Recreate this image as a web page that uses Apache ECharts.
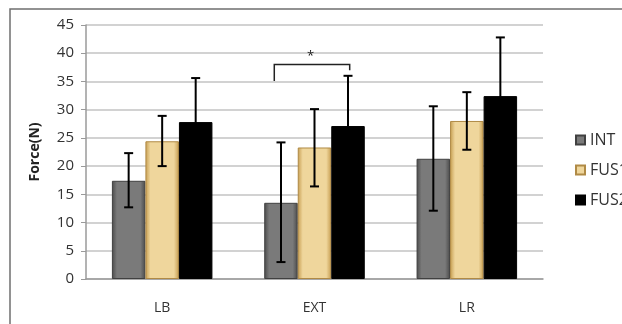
<!DOCTYPE html>
<html><head><meta charset="utf-8">
<script src="https://cdn.jsdelivr.net/npm/echarts@6/dist/echarts.min.js"></script>
<style>html,body{margin:0;padding:0;background:#fff}#c{width:622px;height:324px}</style>
</head><body><div id="c"></div>
<script>
var categories = ['LB', 'EXT', 'LR'];
var seriesNames = ['INT', 'FUS1', 'FUS2'];
var intValues = [17.4, 13.5, 21.3];
var fus1Values = [24.4, 23.3, 28.0];
var fus2Values = [27.8, 27.1, 32.4];
var intErr = [[12.7, 22.3], [3.0, 24.2], [12.1, 30.6]];
var fus1Err = [[20.0, 28.9], [16.4, 30.1], [22.9, 33.1]];
var fus2Err = [[20.0, 35.6], [18.2, 36.0], [22.0, 42.8]];
var yTicks = [0, 5, 10, 15, 20, 25, 30, 35, 40, 45];
var bracket = {cat: 'EXT', level: 38, leftEnd: 35.1, rightEnd: 37, label: '*'};

var GAP = 0.34;
var font = '"Open Sans", "Liberation Sans", sans-serif';

function barW(api) { return api.size([1, 0])[0] * (1 - GAP) / 3; }

function errSeries(name, errs, slot) {
  return {
    type: 'custom', name: name + ' err', legendHoverLink: false, z: 5,
    data: errs.map(function (e, i) { return [i, e[0], e[1]]; }),
    renderItem: function (params, api) {
      var w = barW(api);
      var lo = api.coord([api.value(0), api.value(1)]);
      var hi = api.coord([api.value(0), api.value(2)]);
      var x = lo[0] + slot * w;
      var cap = 4.5;
      var st = {stroke: '#000', lineWidth: 2};
      return {type: 'group', children: [
        {type: 'line', shape: {x1: x, y1: lo[1], x2: x, y2: hi[1]}, style: st},
        {type: 'line', shape: {x1: x - cap, y1: lo[1], x2: x + cap, y2: lo[1]}, style: st},
        {type: 'line', shape: {x1: x - cap, y1: hi[1], x2: x + cap, y2: hi[1]}, style: st}
      ]};
    }
  };
}

function grad(edge, mid) {
  return new echarts.graphic.LinearGradient(0, 0, 1, 0, [
    {offset: 0, color: edge}, {offset: 0.15, color: mid}, {offset: 0.85, color: mid}, {offset: 1, color: edge}
  ]);
}

var chart = echarts.init(document.getElementById('c'));
chart.setOption({
  animation: false,
  textStyle: {fontFamily: font},
  graphic: [{type: 'rect', shape: {x: 10, y: 9, width: 700, height: 400},
    style: {fill: 'none', stroke: '#6f6f6f', lineWidth: 1.5}, z: -1}],
  grid: {left: 86, right: 79, top: 25, bottom: 45},
  legend: {
    orient: 'vertical', left: 570, top: 127, itemWidth: 9, itemHeight: 9, itemGap: 14,
    data: seriesNames, icon: 'rect',
    textStyle: {fontSize: 16, color: '#333', fontFamily: font}
  },
  xAxis: {
    type: 'category', data: categories,
    axisLine: {lineStyle: {color: '#9a9a9a', width: 1.5}},
    axisTick: {show: false},
    axisLabel: {color: '#333', fontSize: 14, margin: 22, fontFamily: font}
  },
  yAxis: {
    type: 'value', min: 0, max: 45, interval: 5,
    name: 'Force(N)', nameLocation: 'middle', nameGap: 44,
    nameTextStyle: {fontWeight: 'bold', fontSize: 14, color: '#222', fontFamily: font},
    axisLine: {show: true, lineStyle: {color: '#9a9a9a', width: 1.5}},
    axisTick: {show: true, length: 5, lineStyle: {color: '#9a9a9a'}},
    axisLabel: {color: '#333', fontSize: 15, margin: 12, fontFamily: font,
      formatter: function (v) { return yTicks.indexOf(v) >= 0 ? String(v) : ''; }},
    splitLine: {lineStyle: {color: '#d2d2d2', width: 2}}
  },
  series: [
    {type: 'bar', name: 'INT', data: intValues, barGap: '0%', barCategoryGap: (GAP * 100) + '%',
      itemStyle: {color: grad('#4a4a4a', '#7a7a7a'), borderColor: '#404040', borderWidth: 1}},
    {type: 'bar', name: 'FUS1', data: fus1Values,
      itemStyle: {color: grad('#c69d50', '#efd69c'), borderColor: '#b08a45', borderWidth: 1}},
    {type: 'bar', name: 'FUS2', data: fus2Values,
      itemStyle: {color: '#000', borderColor: '#000', borderWidth: 1}},
    errSeries('INT', intErr, -1),
    errSeries('FUS1', fus1Err, 0),
    errSeries('FUS2', fus2Err, 1),
    {
      type: 'custom', name: 'bracket', z: 6,
      data: [[categories.indexOf(bracket.cat), bracket.level, bracket.leftEnd, bracket.rightEnd]],
      renderItem: function (params, api) {
        var w = barW(api);
        var c = api.coord([api.value(0), api.value(1)]);
        var l = api.coord([api.value(0), api.value(2)]);
        var r = api.coord([api.value(0), api.value(3)]);
        var xl = c[0] - 1.2 * w, xr = c[0] + 1.05 * w;
        return {type: 'group', children: [
          {type: 'polyline', shape: {points: [[xl, l[1]], [xl, c[1]], [xr, c[1]], [xr, r[1]]]},
            style: {stroke: '#222', lineWidth: 1.5, fill: 'none'}},
          {type: 'text', style: {text: bracket.label, x: c[0] - 4, y: c[1] - 2,
            textAlign: 'center', textVerticalAlign: 'bottom', fontSize: 13, fill: '#222', fontFamily: font}}
        ]};
      }
    }
  ]
});
</script></body></html>
